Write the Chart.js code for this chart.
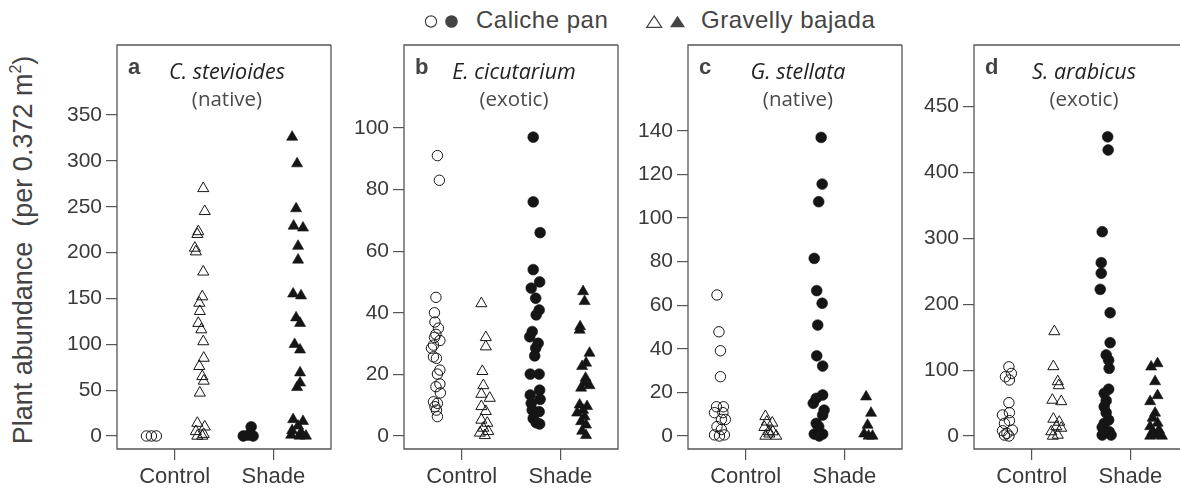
<!DOCTYPE html>
<html><head><meta charset="utf-8">
<script src="https://cdn.jsdelivr.net/npm/chart.js@4.4.0/dist/chart.umd.min.js"></script>
<style>
html,body{margin:0;padding:0;background:#fff;overflow:hidden;width:1180px;height:493px;}
#wrap{position:relative;width:1180px;height:493px;overflow:hidden;}
canvas{position:absolute;top:0;}
.t{position:absolute;color:#3a3a3a;white-space:nowrap;font-family:"Liberation Sans",Arial,sans-serif;}
.let{font-weight:bold;font-size:22px;line-height:22px;color:#444;}
.sp{font-family:"Open Sans",sans-serif;font-style:italic;font-size:21.5px;line-height:21px;color:#222;text-align:center;width:200px;}
.st{font-family:"Open Sans",sans-serif;font-weight:400;font-size:20.5px;line-height:21px;color:#4a4a4a;text-align:center;width:200px;}
.leg{font-size:24px;line-height:24px;letter-spacing:0.5px;color:#444;}
#ytitle{font-size:27px;line-height:30px;height:30px;width:460px;text-align:center;transform:rotate(-90deg);color:#444;}
</style></head><body><div id="wrap">
<svg style="position:absolute;left:0;top:0" width="1180" height="40">
  <circle cx="431" cy="21.5" r="5.6" fill="none" stroke="#444" stroke-width="1.2"/>
  <circle cx="451.5" cy="21.5" r="6.3" fill="#444"/>
  <polygon points="646.7,27.3 661.7,27.3 654.2,15.8" fill="none" stroke="#444" stroke-width="1.2"/>
  <polygon points="670,27.3 685,27.3 677.5,15.8" fill="#444"/>
</svg>
<div class="t leg" style="left:476px;top:8px">Caliche pan</div>
<div class="t leg" style="left:701px;top:8px">Gravelly bajada</div>
<div class="t" id="ytitle" style="left:-207px;top:235px">Plant abundance&nbsp; (per 0.372 m<sup style="font-size:16px;vertical-align:11px;line-height:0">2</sup>)</div>
</div>
<script>
// ---------- data ----------
const groupX = [1, 2, 3, 4];            // Control/Caliche, Control/Gravelly, Shade/Caliche, Shade/Gravelly
const xTicks = [1.5, 3.5];
const xLabels = ['Control', 'Shade'];

// Panel a: C. stevioides
const aCtrlPan = [0, 0, 0];
const aCtrlPanJit = [-0.07, 0.03, 0.13];
const aCtrlGrav = [270, 245, 223, 220, 205, 201, 179, 152, 145, 136, 123, 116, 103, 85, 76, 65, 60, 47, 14, 10, 5, 2, 0, 0];
const aCtrlGravJit = [0.08, 0.11, -0.02, -0.04, -0.09, -0.07, 0.08, 0.06, 0, 0.01, -0.02, 0.04, 0.08, 0.09, 0, 0.06, 0.09, 0.01, -0.04, 0.11, -0.07, 0.09, 0.06, -0.04];
const aShadePan = [10, 0, 0, 1];
const aShadePanJit = [0.05, -0.11, 0.09, -0.01];
const aShadeGrav = [326, 297, 248, 229, 227, 207, 192, 155, 153, 129, 123, 100, 94, 69, 58, 53, 18, 16, 11, 6, 4, 1, 0, 0];
const aShadeGravJit = [-0.12, -0.02, -0.04, -0.09, 0.10, 0, 0, -0.10, 0.06, -0.04, 0.04, -0.07, 0.04, 0.04, 0.04, -0.02, -0.10, 0.10, 0, -0.12, 0.06, -0.14, 0.03, 0.16];
const aTicks = [0, 50, 100, 150, 200, 250, 300, 350];
const aTickLabels = ['0', '50', '100', '150', '200', '250', '300', '350'];

// Panel b: E. cicutarium
const bCtrlPan = [91, 83, 45, 40, 37, 35, 33, 32, 31, 29.5, 28.5, 25.7, 25.2, 21.4, 20.1, 16.9, 16, 14, 11.1, 10.6, 9.5, 8.4, 6.3];
const bCtrlPanJit = [0.01, 0.05, -0.02, -0.05, -0.04, 0.03, -0.02, -0.05, 0.06, -0.07, -0.11, -0.07, -0.01, 0.06, 0.01, 0.06, -0.02, 0.07, -0.07, 0.01, -0.04, -0.01, 0.01];
const bCtrlGrav = [43, 32, 29, 21, 16.4, 13.6, 12.3, 9.6, 8, 5.2, 4.2, 2.6, 1.5, 1, 0.2];
const bCtrlGravJit = [-0.10, -0.01, -0.01, -0.08, -0.06, -0.10, 0.07, -0.10, -0.01, -0.10, 0.02, -0.06, 0.04, -0.13, -0.03];
const bShadePan = [97, 76, 66, 54, 50, 48, 44.7, 40.9, 39.3, 33.9, 32.2, 30.1, 28.5, 26, 20.1, 20.1, 14.9, 13.3, 11.9, 10.6, 8.4, 7.9, 5.7, 4.3, 3.9];
const bShadePanJit = [-0.05, -0.05, 0.09, -0.05, 0.08, -0.09, 0, 0.07, 0.01, -0.07, -0.12, 0.05, 0, -0.02, -0.11, 0.07, 0.08, -0.11, 0.09, -0.09, -0.07, 0.07, -0.05, 0.01, 0.08];
const bShadeGrav = [46.9, 43.7, 35.5, 34.4, 26.9, 23.7, 22.6, 18.8, 17.2, 16.4, 15.6, 10.1, 9.6, 8.4, 7.5, 6.3, 4.7, 3.6, 1.6, 0.2];
const bShadeGravJit = [-0.04, -0.01, -0.10, -0.11, 0.09, 0.02, -0.06, 0.01, -0.01, 0.09, -0.08, -0.11, 0.04, -0.04, -0.16, -0.01, -0.08, 0.02, -0.06, 0.02];
const bTicks = [0, 20, 40, 60, 80, 100];
const bTickLabels = ['0', '20', '40', '60', '80', '100'];

// Panel c: G. stellata
const cCtrlPan = [64.7, 47.8, 39.1, 27.2, 13.4, 13.4, 10.7, 10.7, 7.6, 7.6, 4.3, 3, 0.5, 0.5, 0];
const cCtrlPanJit = [-0.08, -0.04, -0.01, -0.01, -0.09, 0.05, -0.13, 0.04, 0.01, 0.09, -0.08, 0.01, -0.13, 0.07, -0.03];
const cCtrlGrav = [9, 6.5, 6, 4, 2, 2, 1, 0, 0];
const cCtrlGravJit = [-0.10, -0.07, 0.04, -0.12, -0.03, 0.05, -0.02, -0.10, 0.12];
const cShadePan = [137, 115.6, 107.5, 81.5, 66.7, 60.9, 50.9, 36.8, 32.1, 18.8, 17.3, 15, 11.9, 9.6, 5.8, 4.3, 0.9, 0.9, 0];
const cShadePanJit = [0.03, 0.05, -0.02, -0.11, -0.06, 0.05, -0.04, -0.06, 0.06, 0.06, -0.07, -0.13, 0.09, 0.06, -0.07, -0.02, -0.11, 0.06, -0.01];
const cShadeGrav = [18, 10.5, 5, 1, 0, 0];
const cShadeGravJit = [-0.06, 0.04, -0.03, -0.10, 0.07, -0.01];
const cTicks = [0, 20, 40, 60, 80, 100, 120, 140];
const cTickLabels = ['0', '20', '40', '60', '80', '100', '120', '140'];

// Panel d: S. arabicus
const dCtrlPan = [105, 95, 90, 85, 50.6, 35.4, 31.9, 23.3, 19.2, 9.1, 8, 4, 1.5, 0];
const dCtrlPanJit = [0.04, 0.09, -0.03, 0.05, 0.04, 0.05, -0.09, 0.05, -0.05, 0.11, -0.09, 0, -0.05, 0.04];
const dCtrlGrav = [158.6, 105.5, 82.7, 76.6, 54.6, 52.4, 25.8, 21.2, 14.4, 12.1, 6.8, 1.5, 0];
const dCtrlGravJit = [-0.04, -0.06, 0.03, 0.05, -0.08, 0.10, -0.06, 0.06, 0, 0.10, -0.10, 0.03, -0.07];
const dShadePan = [454, 434, 310, 263, 247, 222.6, 187, 141.6, 123, 115, 102.7, 71, 64.8, 53.6, 44.5, 35.4, 24.3, 19.2, 13.2, 6.6, 1.5, 1.5];
const dShadePanJit = [0.04, 0.05, -0.07, -0.09, -0.09, -0.11, 0.09, 0.09, 0.01, 0.06, 0.07, 0.06, -0.03, 0.01, -0.03, 0.01, 0.06, -0.03, -0.07, 0.07, -0.07, 0.11];
const dShadeGrav = [110, 105, 82.7, 61.5, 52.4, 34.9, 27.3, 19.7, 14.4, 9.1, 6.8, 1.5, 0, 0];
const dShadeGravJit = [0.05, -0.08, 0, 0.05, -0.10, 0, -0.05, 0.05, -0.10, 0.08, -0.05, 0.03, -0.10, 0.14];
const dTicks = [0, 100, 200, 300, 400, 500];
const dTickLabels = ['0', '100', '200', '300', '400', '450'];

const panels = [
  {left: 117, letter: 'a', species: 'C. stevioides', status: '(native)', yMin: -14.2, yMax: 426.4, ticks: aTicks, labels: aTickLabels,
   series: [[aCtrlPan, aCtrlPanJit], [aCtrlGrav, aCtrlGravJit], [aShadePan, aShadePanJit], [aShadeGrav, aShadeGravJit]]},
  {left: 404, letter: 'b', species: 'E. cicutarium', status: '(exotic)', yMin: -4.22, yMax: 126.9, ticks: bTicks, labels: bTickLabels,
   series: [[bCtrlPan, bCtrlPanJit], [bCtrlGrav, bCtrlGravJit], [bShadePan, bShadePanJit], [bShadeGrav, bShadeGravJit]]},
  {left: 688, letter: 'c', species: 'G. stellata', status: '(native)', yMin: -5.97, yMax: 179.4, ticks: cTicks, labels: cTickLabels,
   series: [[cCtrlPan, cCtrlPanJit], [cCtrlGrav, cCtrlGravJit], [cShadePan, cShadePanJit], [cShadeGrav, cShadeGravJit]]},
  {left: 974, letter: 'd', species: 'S. arabicus', status: '(exotic)', yMin: -19.7, yMax: 593.3, ticks: dTicks, labels: dTickLabels,
   series: [[dCtrlPan, dCtrlPanJit], [dCtrlGrav, dCtrlGravJit], [dShadePan, dShadePanJit], [dShadeGrav, dShadeGravJit]]}
];

// ---------- drawing ----------
const INK = '#151515';
const styles = [
  {pointStyle: 'circle', radius: 5.2, fill: 'rgba(0,0,0,0)'},
  {pointStyle: 'triangle', radius: 6.4, fill: 'rgba(0,0,0,0)'},
  {pointStyle: 'circle', radius: 5.4, fill: INK},
  {pointStyle: 'triangle', radius: 6.4, fill: INK}
];
const AXW = 80, PLOTW = 214, CW = AXW + PLOTW + 4, CH = 493, PAGEW = 1180;
const tickFont = {family: '"Liberation Sans", Arial, sans-serif', size: 21};
const xFont = {family: '"Liberation Sans", Arial, sans-serif', size: 22};

function framePlugin(pageLeft) {
  return {
    id: 'frame',
    beforeDatasetsDraw(chart) {
      const {ctx, chartArea: a} = chart;
      const rightVisible = pageLeft - AXW + a.right < PAGEW;
      ctx.save();
      ctx.strokeStyle = '#555';
      ctx.lineWidth = 1.3;
      ctx.beginPath();
      ctx.moveTo(a.right, a.top); ctx.lineTo(a.left, a.top);
      ctx.lineTo(a.left, a.bottom); ctx.lineTo(a.right, a.bottom);
      if (rightVisible) ctx.lineTo(a.right, a.top);
      ctx.stroke();
      ctx.restore();
    }
  };
}

const wrap = document.getElementById('wrap');
panels.forEach((p) => {
  const cv = document.createElement('canvas');
  cv.width = CW; cv.height = CH;
  cv.style.width = CW + 'px'; cv.style.height = CH + 'px';
  cv.style.left = (p.left - AXW) + 'px';
  wrap.appendChild(cv);

  const datasets = p.series.map((s, gi) => ({
    data: s[0].map((v, k) => ({x: groupX[gi] + s[1][k], y: v})),
    pointStyle: styles[gi].pointStyle,
    pointRadius: styles[gi].radius,
    pointHoverRadius: styles[gi].radius,
    pointBackgroundColor: styles[gi].fill,
    pointBorderColor: INK,
    pointBorderWidth: gi < 2 ? 1 : 0.6,
    clip: false
  }));

  new Chart(cv.getContext('2d'), {
    type: 'scatter',
    data: {datasets},
    options: {
      responsive: false, animation: false, devicePixelRatio: 1,
      layout: {autoPadding: false, padding: {top: 45, right: 4, left: 0, bottom: 0}},
      plugins: {legend: {display: false}, tooltip: {enabled: false}},
      scales: {
        x: {
          type: 'linear', min: 1 / 3, max: 14 / 3,
          afterBuildTicks: sc => { sc.ticks = xTicks.map(v => ({value: v})); },
          afterFit: sc => { sc.height = 44; },
          ticks: {callback: v => xLabels[xTicks.indexOf(v)], font: xFont, color: '#3a3a3a', padding: 4, maxRotation: 0, autoSkip: false},
          grid: {drawOnChartArea: false, drawTicks: true, tickLength: 11, color: '#555', lineWidth: 1.2},
          border: {display: false}
        },
        y: {
          type: 'linear', min: p.yMin, max: p.yMax,
          afterBuildTicks: sc => { sc.ticks = p.ticks.map(v => ({value: v})); },
          afterFit: sc => { sc.width = AXW; },
          ticks: {callback: v => p.labels[p.ticks.indexOf(v)], font: tickFont, color: '#3a3a3a', padding: 4, autoSkip: false},
          grid: {drawOnChartArea: false, drawTicks: true, tickLength: 11, color: '#555', lineWidth: 1.2},
          border: {display: false}
        }
      }
    },
    plugins: [framePlugin(p.left)]
  });

  const l = document.createElement('div');
  l.className = 't let'; l.textContent = p.letter;
  l.style.left = (p.left + 11) + 'px'; l.style.top = '56px';
  wrap.appendChild(l);
  const sp = document.createElement('div');
  sp.className = 't sp'; sp.textContent = p.species;
  sp.style.left = (p.left + 110 - 100) + 'px'; sp.style.top = '60px';
  wrap.appendChild(sp);
  const st = document.createElement('div');
  st.className = 't st'; st.textContent = p.status;
  st.style.left = (p.left + 110 - 100) + 'px'; st.style.top = '88px';
  wrap.appendChild(st);
});
</script></body></html>
